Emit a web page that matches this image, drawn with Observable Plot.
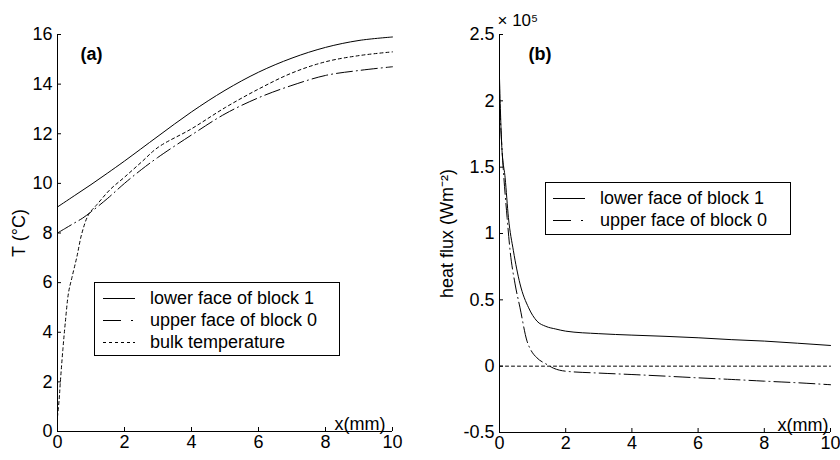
<!DOCTYPE html>
<html><head><meta charset="utf-8">
<script src="https://cdn.jsdelivr.net/npm/d3@7"></script>
<script src="https://cdn.jsdelivr.net/npm/@observablehq/plot@0.6"></script>
<style>
body{margin:0;background:#fff;}
#wrap{position:relative;width:840px;height:460px;overflow:hidden;font-family:"Liberation Sans",Arial,sans-serif;color:#000;}
.panel{position:absolute;top:0;}
.legend{position:absolute;border:1px solid #000;background:#fff;box-sizing:border-box;font-size:18px;}
.legend .row{position:absolute;left:0;height:22px;display:flex;align-items:center;white-space:nowrap;}
.legend svg{display:block;}
</style></head><body><div id="wrap"></div>
<script>
// ---------- data ----------
const xTicks = [0, 2, 4, 6, 8, 10];
const tTicks = [0, 2, 4, 6, 8, 10, 12, 14, 16];
const qTicks = [-0.5, 0, 0.5, 1, 1.5, 2, 2.5];

const seriesNames = ["lower face of block 1", "upper face of block 0", "bulk temperature"];

// panel (a): temperature (°C) vs x (mm)
const aLowerX = [0, 0.5, 1, 1.5, 2, 3, 4, 5, 6, 7, 8, 9, 10];
const aLowerT = [9.05, 9.5, 9.95, 10.42, 10.9, 11.9, 12.88, 13.75, 14.48, 15.05, 15.48, 15.76, 15.9];
const aUpperX = [0, 0.25, 0.5, 0.75, 1, 1.5, 2, 2.5, 3, 4, 5, 6, 7, 8, 9, 10];
const aUpperT = [8.0, 8.2, 8.4, 8.6, 8.85, 9.4, 10.0, 10.55, 11.05, 11.95, 12.8, 13.45, 13.95, 14.35, 14.55, 14.7];
const aBulkX = [0, 0.05, 0.08, 0.16, 0.23, 0.33, 0.43, 0.58, 0.73, 0.93, 1.18, 1.57, 2, 2.5, 3, 4, 5, 6, 7, 8, 9, 10];
const aBulkT = [0.6, 1.3, 1.9, 3.3, 4.35, 5.6, 6.2, 7.05, 8.0, 8.75, 9.15, 9.75, 10.25, 10.85, 11.45, 12.2, 13.05, 13.8, 14.45, 14.9, 15.15, 15.3];

// panel (b): heat flux (×10^5 W m^-2) vs x (mm)
const bLowerX = [0, 0.07, 0.17, 0.27, 0.42, 0.62, 0.88, 1.13, 1.4, 1.7, 2, 3, 4, 5, 6, 7, 8, 9, 10];
const bLowerQ = [2.17, 1.65, 1.42, 1.12, 0.87, 0.62, 0.44, 0.34, 0.3, 0.28, 0.264, 0.245, 0.234, 0.225, 0.214, 0.2, 0.189, 0.173, 0.156];
const bUpperX = [0, 0.11, 0.23, 0.32, 0.47, 0.62, 0.83, 0.95, 1.13, 1.43, 1.63, 2, 3, 4, 5, 6, 7, 8, 9, 10];
const bUpperQ = [1.98, 1.5, 1.12, 0.87, 0.62, 0.44, 0.19, 0.12, 0.063, 0.013, -0.015, -0.038, -0.052, -0.063, -0.075, -0.088, -0.1, -0.113, -0.125, -0.14];
const bZeroX = [0, 10];
const bZeroQ = [0, 0];

// ---------- styles ----------
const FONT = '"Liberation Sans", Arial, sans-serif';
const dashSolid = null;
const dashUpper = "16,4,1,4";
const dashDot = "3,3";

function rows(xs, ys) { return xs.map((x, i) => ({x, y: ys[i]})); }

function panel({xDomain, yDomain, yTicks, margins, lines, curve, yLabel, yLabelDx, tag, tagDx, xLabelDx, extra = []}) {
  return Plot.plot({
    width: 420, height: 460, ...margins,
    style: {fontFamily: FONT, fontSize: "18px", color: "#000", background: "transparent", overflow: "visible"},
    x: {domain: xDomain},
    y: {domain: yDomain},
    marks: [
      Plot.axisX({ticks: xTicks, tickSize: 0, tickPadding: 4, label: null, tickFormat: d => String(d)}),
      Plot.axisX({ticks: xTicks, tickSize: 4, dy: -4, fill: "none", label: null}),
      Plot.axisY({ticks: yTicks, tickSize: 0, tickPadding: 5, label: null, tickFormat: d => String(d)}),
      Plot.axisY({ticks: yTicks, tickSize: 4, dx: 4, fill: "none", label: null}),
      Plot.ruleX([xDomain[0]], {stroke: "#000"}),
      Plot.ruleY([yDomain[0]], {stroke: "#000"}),
      ...lines.map(l => Plot.line(l.data, {x: "x", y: "y", stroke: "#000", strokeWidth: 1, strokeDasharray: l.dash, curve})),
      Plot.text([tag], {text: d => d, frameAnchor: "top-left", dx: tagDx, dy: 20, textAnchor: "start", lineAnchor: "middle", fontWeight: "bold", fontSize: 18}),
      Plot.text(["x(mm)"], {text: d => d, frameAnchor: "bottom-right", dx: xLabelDx, dy: -2, textAnchor: "end", lineAnchor: "bottom", fontSize: 18}),
      Plot.text([yLabel], {text: d => d, frameAnchor: "left", rotate: -90, dx: yLabelDx, textAnchor: "middle", lineAnchor: "middle", fontSize: 18}),
      ...extra
    ]
  });
}

const wrap = document.getElementById("wrap");

const plotA = panel({
  xDomain: [0, 10], yDomain: [0, 16], yTicks: tTicks,
  margins: {marginLeft: 57, marginRight: 28, marginTop: 34, marginBottom: 29},
  lines: [
    {data: rows(aLowerX, aLowerT), dash: dashSolid},
    {data: rows(aUpperX, aUpperT), dash: dashUpper},
    {data: rows(aBulkX, aBulkT), dash: dashDot}
  ],
  curve: "catmull-rom",
  yLabel: "T (°C)", yLabelDx: -38, tag: "(a)", tagDx: 23, xLabelDx: -7
});
plotA.classList.add("panel"); plotA.style.left = "0px";
wrap.appendChild(plotA);

const plotB = panel({
  xDomain: [0, 10], yDomain: [-0.5, 2.5], yTicks: qTicks,
  margins: {marginLeft: 79, marginRight: 10, marginTop: 34, marginBottom: 28},
  lines: [
    {data: rows(bLowerX, bLowerQ), dash: dashSolid},
    {data: rows(bUpperX, bUpperQ), dash: dashUpper},
    {data: rows(bZeroX, bZeroQ), dash: dashDot}
  ],
  curve: "monotone-x",
  yLabel: "heat flux (Wm⁻²)", yLabelDx: -52, tag: "(b)", tagDx: 29, xLabelDx: -2,
  extra: [Plot.text(["× 10⁵"], {text: d => d, frameAnchor: "top-left", dx: -2, dy: -9, textAnchor: "start", lineAnchor: "bottom", fontSize: 17})]
});
plotB.classList.add("panel"); plotB.style.left = "420px";
wrap.appendChild(plotB);

// ---------- legends ----------
const legendDash = [null, "18,10,2,10", "3,3"];
function legend(left, top, width, height, n, sampleX, textX) {
  const box = document.createElement("div");
  box.className = "legend";
  Object.assign(box.style, {left: left + "px", top: top + "px", width: width + "px", height: height + "px"});
  for (let i = 0; i < n; i++) {
    const row = document.createElement("div");
    row.className = "row";
    row.style.top = (4 + 22 * i) + "px";
    const ns = "http://www.w3.org/2000/svg";
    const s = document.createElementNS(ns, "svg");
    s.setAttribute("width", textX); s.setAttribute("height", 22);
    const ln = document.createElementNS(ns, "line");
    ln.setAttribute("x1", sampleX); ln.setAttribute("x2", sampleX + 32);
    ln.setAttribute("y1", 11.5); ln.setAttribute("y2", 11.5);
    ln.setAttribute("stroke", "#000"); ln.setAttribute("stroke-width", 1);
    if (legendDash[i]) ln.setAttribute("stroke-dasharray", legendDash[i]);
    s.appendChild(ln);
    row.appendChild(s);
    const t = document.createElement("span");
    t.textContent = seriesNames[i];
    row.appendChild(t);
    box.appendChild(row);
  }
  wrap.appendChild(box);
}
legend(94, 282, 246, 74, 3, 8, 55);
legend(545, 182, 246, 53, 2, 7, 54);
</script>
</body></html>
